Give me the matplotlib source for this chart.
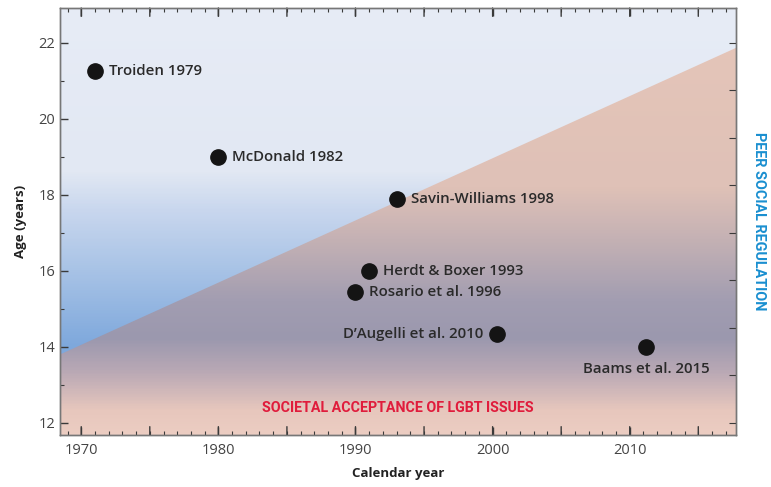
import numpy as np
import matplotlib.pyplot as plt
from matplotlib.colors import LinearSegmentedColormap
from matplotlib.patches import Polygon
from matplotlib.ticker import MultipleLocator

plt.rcParams['font.family'] = ['Open Sans', 'DejaVu Sans']

# study data
studies = ["Troiden 1979", "McDonald 1982", "Savin-Williams 1998",
           "Herdt & Boxer 1993", "Rosario et al. 1996",
           "D\u2019Augelli et al. 2010", "Baams et al. 2015"]
years = [1971.0, 1980.0, 1993.0, 1991.0, 1990.0, 2000.3, 2011.2]
ages = [21.25, 19.0, 17.9, 16.0, 15.45, 14.35, 14.0]
label_side = ['right', 'right', 'right', 'right', 'right', 'left', 'below']

# dividing line between the two regions
xlim = (1968.45, 2017.75)
ylim = (11.68, 22.92)
line_x = [1968.45, 2017.75]
line_y = [13.8, 21.87]

# vertical colour stops (age, colour)
upper_stops = [(11.68, '#7ea8dc'), (14.0, '#7ea8dc'), (16.0, '#a8c3e6'),
               (17.6, '#c9d7ee'), (18.6, '#e2e8f3'), (22.92, '#e7ecf6')]
lower_stops = [(11.68, '#eccdc2'), (12.3, '#e7c7bd'), (13.3, '#baa9b5'),
               (14.2, '#9b98ae'), (15.2, '#a29db1'), (16.8, '#c4b1b4'),
               (18.2, '#dfc1b7'), (22.92, '#e6c6b9')]

banner_family = ['Roboto', 'DejaVu Sans']


def make_cmap(stops):
    lo, hi = ylim
    return LinearSegmentedColormap.from_list(
        'g', [((y - lo) / (hi - lo), c) for y, c in stops])


fig = plt.figure(figsize=(7.71, 4.87), dpi=100)
ax = fig.add_axes([0.0778, 0.1068, 0.8768, 0.8768])
ax.set_xlim(*xlim)
ax.set_ylim(*ylim)

grad = np.linspace(ylim[0], ylim[1], 400).reshape(-1, 1)
ext = [xlim[0], xlim[1], ylim[0], ylim[1]]
ax.imshow(grad, cmap=make_cmap(upper_stops), origin='lower', aspect='auto',
          extent=ext, vmin=ylim[0], vmax=ylim[1], zorder=0)
low = ax.imshow(grad, cmap=make_cmap(lower_stops), origin='lower', aspect='auto',
                extent=ext, vmin=ylim[0], vmax=ylim[1], zorder=1)
poly = Polygon([(line_x[0], ylim[0]), (line_x[0], line_y[0]),
                (line_x[1], line_y[1]), (line_x[1], ylim[0])],
               closed=True, transform=ax.transData, facecolor='none',
               edgecolor='none')
ax.add_patch(poly)
low.set_clip_path(poly)

ax.plot(years, ages, 'o', color='#141414', markersize=11, zorder=5)

txt = dict(fontsize=10.8, color='#2a2a2a', fontweight='semibold', zorder=6)
for name, x, y, side in zip(studies, years, ages, label_side):
    if side == 'right':
        ax.annotate(name, (x, y), xytext=(10, 0), textcoords='offset points',
                    ha='left', va='center', **txt)
    elif side == 'left':
        ax.annotate(name, (x, y), xytext=(-10, 0), textcoords='offset points',
                    ha='right', va='center', **txt)
    else:
        ax.annotate(name, (x, y), xytext=(0, -11), textcoords='offset points',
                    ha='center', va='top', **txt)

ax.text(1993.1, 12.4, 'SOCIETAL ACCEPTANCE OF LGBT ISSUES', color='#e01c3c',
        fontsize=10.3, fontweight='bold', ha='center', va='center',
        family=banner_family, zorder=6)
ax.text(1.034, 0.5, 'PEER SOCIAL REGULATION', transform=ax.transAxes,
        color='#1a8fd0', fontsize=10.4, fontweight='bold', rotation=-90,
        ha='center', va='center', family=banner_family)

ax.xaxis.set_major_locator(MultipleLocator(10))
ax.xaxis.set_minor_locator(MultipleLocator(1))
ax.set_yticks([12, 14, 16, 18, 20, 22])
ax.yaxis.set_minor_locator(MultipleLocator(1))
ax.tick_params(axis='both', which='both', direction='in', top=True,
               color='#3a3a3a', labelcolor='#444444', labelsize=10.5)
ax.tick_params(axis='both', which='major', length=6, width=1)
ax.tick_params(axis='both', which='minor', length=3, width=0.8)
ax.tick_params(axis='y', right=False)
ax.tick_params(axis='x', pad=6)

# longer ticks every 5 years
for yr in np.arange(1970, 2016, 5):
    for yy, sgn in ((ylim[0], 1), (ylim[1], -1)):
        ax.annotate('', (yr, yy), xytext=(0, sgn * 6), textcoords='offset points',
                    arrowprops=dict(arrowstyle='-', color='#3a3a3a', lw=1,
                                    shrinkA=0, shrinkB=0))

# right-hand ticks
ax2 = ax.twinx()
ax2.set_ylim(*ylim)
ax2.set_yticks(np.linspace(12, 22, 9))
ax2.tick_params(axis='y', direction='in', length=5, color='#3a3a3a',
                labelright=False)

for a in (ax, ax2):
    for s in a.spines.values():
        s.set_color('#777777')
        s.set_linewidth(1)

ax.set_xlabel('Calendar year', fontsize=9.5, fontweight='bold', color='#222222',
              labelpad=6)
ax.set_ylabel('Age (years)', fontsize=9.5, fontweight='bold', color='#222222',
              labelpad=8)

fig.savefig('out.png', dpi=100)
